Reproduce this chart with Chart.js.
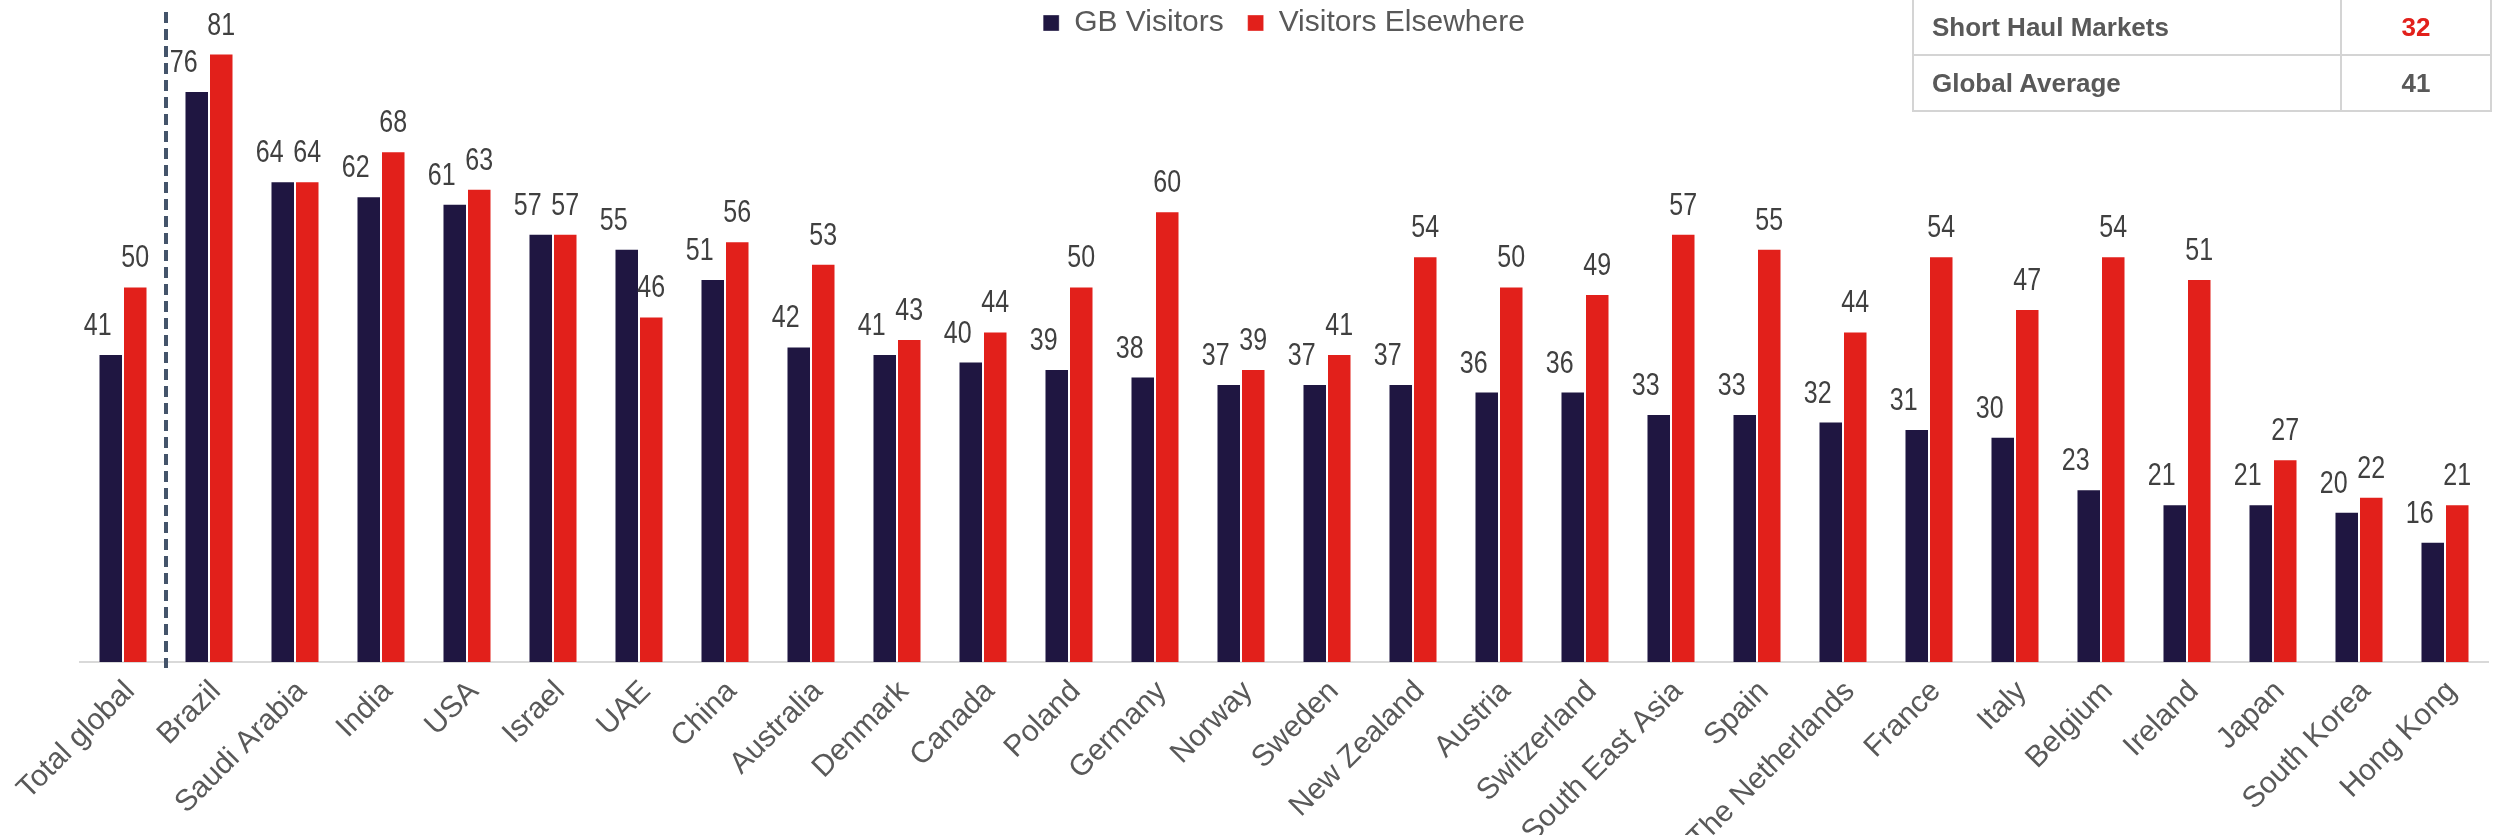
<!DOCTYPE html>
<html>
<head>
<meta charset="UTF-8">
<title>GB Visitors vs Visitors Elsewhere</title>
<script src="https://cdn.jsdelivr.net/npm/chart.js"></script>
<style>
  body { margin: 0; background: #fff; font-family: 'Liberation Sans', Arial, sans-serif; }
  #wrap { position: relative; width: 2496px; height: 835px; }
  #summary { position: absolute; left: 1912px; top: -2px; border-collapse: collapse; }
  #summary td { border: 2px solid #d4d4d4; height: 54px; font-size: 26px; font-weight: bold; color: #595959; padding: 0; }
  #summary td.lbl { width: 408px; padding-left: 18px; }
  #summary td.val { width: 148px; text-align: center; }
</style>
</head>
<body>
<div id="wrap">
  <canvas id="c"></canvas>
  <table id="summary"></table>
</div>
<script>
const categories = ['Total global', 'Brazil', 'Saudi Arabia', 'India', 'USA', 'Israel', 'UAE', 'China', 'Australia', 'Denmark',
  'Canada', 'Poland', 'Germany', 'Norway', 'Sweden', 'New Zealand', 'Austria', 'Switzerland', 'South East Asia', 'Spain',
  'The Netherlands', 'France', 'Italy', 'Belgium', 'Ireland', 'Japan', 'South Korea', 'Hong Kong'];
const gbVisitors = [41, 76, 64, 62, 61, 57, 55, 51, 42, 41, 40, 39, 38, 37, 37, 37, 36, 36, 33, 33, 32, 31, 30, 23, 21, 21, 20, 16];
const visitorsElsewhere = [50, 81, 64, 68, 63, 57, 46, 56, 53, 43, 44, 50, 60, 39, 41, 54, 50, 49, 57, 55, 44, 54, 47, 54, 51, 27, 22, 21];
const summaryLabels = ['Short Haul Markets', 'Global Average'];
const summaryValues = [32, 41];

// small table top right
document.getElementById('summary').innerHTML = summaryLabels.map((l, i) =>
  `<tr><td class="lbl">${l}</td><td class="val" style="color:${i === 0 ? '#e2201b' : '#595959'}">${summaryValues[i]}</td></tr>`).join('');

// value labels above bars, slightly taller than wide like the original
const barLabels = {
  id: 'barLabels',
  afterDatasetsDraw(chart) {
    const ctx = chart.ctx;
    ctx.save();
    ctx.fillStyle = '#404040';
    ctx.font = '25px "Liberation Sans", Arial';
    ctx.textAlign = 'center';
    ctx.textBaseline = 'alphabetic';
    chart.data.datasets.forEach((ds, di) => {
      chart.getDatasetMeta(di).data.forEach((bar, i) => {
        ctx.save();
        ctx.translate(bar.x + (di === 0 ? -13 : 0), bar.y - 19);
        ctx.scale(1, 1.22);
        ctx.fillText(String(ds.data[i]), 0, 0);
        ctx.restore();
      });
    });
    ctx.restore();
  }
};

// dashed separator between total and markets
const divider = {
  id: 'divider',
  afterDatasetsDraw(chart) {
    const xs = chart.scales.x, ctx = chart.ctx;
    const x = (xs.getPixelForValue(0) + xs.getPixelForValue(1)) / 2;
    ctx.save();
    ctx.strokeStyle = '#44546a';
    ctx.lineWidth = 4;
    ctx.setLineDash([11, 6]);
    ctx.beginPath();
    ctx.moveTo(x, 12);
    ctx.lineTo(x, chart.chartArea.bottom + 6);
    ctx.stroke();
    ctx.restore();
  }
};

// keep the legend short so wide item spacing doesn't push the bars down
const legendHeight = {
  id: 'legendHeight',
  beforeLayout(chart) {
    const lg = chart.legend;
    if (lg && !lg._wrapped) {
      const fit = lg.fit;
      lg.fit = function () { fit.call(this); this.height = 62; };
      lg._wrapped = true;
    }
  }
};

new Chart(document.getElementById('c'), {
  type: 'bar',
  data: {
    labels: categories,
    datasets: [
      { label: 'GB Visitors', data: gbVisitors, backgroundColor: '#1f1641', borderColor: 'rgba(255,255,255,0.35)', borderWidth: 1 },
      { label: 'Visitors Elsewhere', data: visitorsElsewhere, backgroundColor: '#e2201b', borderColor: 'rgba(255,255,255,0.35)', borderWidth: 1 }
    ]
  },
  options: {
    responsive: true,
    maintainAspectRatio: false,
    animation: false,
    layout: { padding: { left: 80, right: 8, top: -16, bottom: 0 } },
    datasets: { bar: { barPercentage: 1, categoryPercentage: 0.57 } },
    plugins: {
      legend: {
        position: 'top',
        align: 'center',
        labels: { boxWidth: 16, boxHeight: 16, padding: 24, color: '#595959', font: { size: 30, family: '"Liberation Sans", Arial' } }
      },
      tooltip: { enabled: false }
    },
    scales: {
      x: {
        grid: { display: false },
        border: { display: true, color: '#d9d9d9', width: 2 },
        ticks: { color: '#595959', font: { size: 30, family: '"Liberation Sans", Arial' }, minRotation: 45, maxRotation: 45, autoSkip: false, padding: 4, labelOffset: 7 },
        afterFit(s) { s.height = 173; }
      },
      y: { display: false, min: 0, max: 82 }
    }
  },
  plugins: [barLabels, divider, legendHeight]
});
</script>
</body>
</html>
